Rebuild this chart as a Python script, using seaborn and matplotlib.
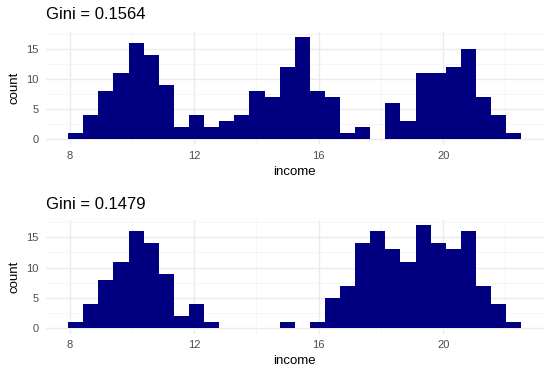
import numpy as np
import pandas as pd
import matplotlib
matplotlib.use("Agg")
import matplotlib.pyplot as plt
import seaborn as sns

# Data: histogram counts per bin (30 bins)
bin_start = 7.95
bin_end = 22.51
n_bins = 30
counts_top = [1, 4, 8, 11, 16, 14, 9, 2, 4, 2, 3, 4, 8, 7, 12, 17, 8, 7, 1, 2,
              0, 6, 3, 11, 11, 12, 15, 7, 4, 1]
counts_bottom = [1, 4, 8, 11, 16, 14, 9, 2, 4, 1, 0, 0, 0, 0, 1, 0, 1, 5, 7, 14,
                 16, 13, 11, 17, 14, 13, 16, 7, 4, 1]
titles = ["Gini = 0.1564", "Gini = 0.1479"]
x_ticks = [8, 12, 16, 20]
y_ticks = [0, 5, 10, 15]

sns.set_theme(style="white")
plt.rcParams['font.family'] = ['Liberation Sans', 'DejaVu Sans']

W, H = 551, 377
fig = plt.figure(figsize=(W / 100, H / 100), dpi=100)
fig.patch.set_facecolor("white")

edges = np.linspace(bin_start, bin_end, n_bins + 1)
centers = (edges[:-1] + edges[1:]) / 2

panels = [
    (counts_top, titles[0], 31.7, 144.4, 19.3),
    (counts_bottom, titles[1], 220.0, 333.5, 209.3),
]
left_px, right_px = 45.5, 544.0
xmin, xmax = bin_start - 0.05 * (bin_end - bin_start), bin_end + 0.05 * (bin_end - bin_start)

for counts, title, top_px, bot_px, title_base in panels:
    ax = fig.add_axes([left_px / W, 1 - bot_px / H, (right_px - left_px) / W, (bot_px - top_px) / H])
    df = pd.DataFrame({"income": centers, "w": counts})
    sns.histplot(data=df, x="income", weights="w", bins=n_bins, binrange=(bin_start, bin_end),
                 color="#000080", alpha=1, edgecolor="none", linewidth=0, ax=ax)
    ymax = max(counts)
    ax.set_ylim(-0.05 * ymax, ymax * 1.05)
    ax.set_xlim(xmin, xmax)
    ax.set_xticks(x_ticks)
    ax.set_yticks(y_ticks)
    ax.set_xticks([10, 14, 18, 22], minor=True)
    ax.set_yticks([2.5, 7.5, 12.5, 17.5], minor=True)
    ax.grid(True, which="major", color="#EBEBEB", linewidth=1.0)
    ax.grid(True, which="minor", color="#F2F2F2", linewidth=0.5)
    ax.set_axisbelow(True)
    for s in ax.spines.values():
        s.set_visible(False)
    ax.tick_params(axis="both", which="both", length=0, labelsize=8, labelcolor="#4D4D4D")
    ax.tick_params(axis="x", pad=5)
    ax.tick_params(axis="y", pad=5)
    ax.set_xlabel("income", fontsize=9.5, color="black", labelpad=3.5)
    ax.set_ylabel("count", fontsize=9.5, color="black", labelpad=4)
    fig.text(left_px / W, 1 - title_base / H, title, fontsize=12, color="black",
             ha="left", va="baseline")

fig.savefig("out.png", dpi=100, facecolor="white")
